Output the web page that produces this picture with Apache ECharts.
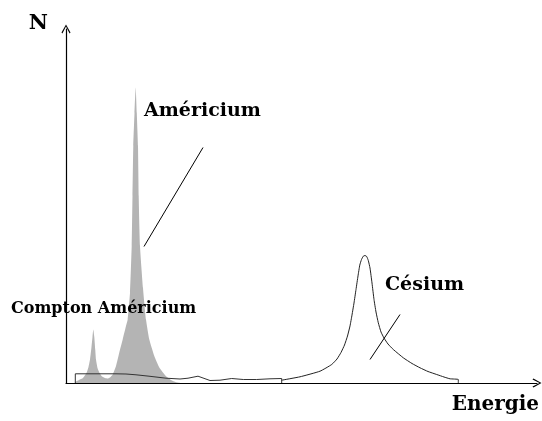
<!DOCTYPE html>
<html>
<head>
<meta charset="utf-8">
<script src="https://cdn.jsdelivr.net/npm/echarts@6/dist/echarts.min.js"></script>
<style>html,body{margin:0;padding:0;background:#fff;}#c{width:542px;height:421px;}</style>
</head>
<body>
<div id="c"></div>
<script>
// Arbitrary units: x = energy channel, y = counts N
const americium = [[9,1],[13,3],[17,5],[20.7,10.5],[22.5,16],[24,23.5],[25.5,36],[26.5,46],[27.3,53.5],[28.3,46],[29.3,33],[30,23.5],[31.5,15],[33.3,10.5],[36,6.5],[39,5],[41.7,4.5],[44,5.5],[46.7,8.5],[50,17],[53.3,30.5],[56.7,43.5],[60,57],[61.7,63.5],[64,90],[65.7,137],[66.5,187],[67.3,237],[68.5,270],[69.7,295.5],[70.8,270],[72,237],[72.7,187],[74,137],[77,95],[80,63.5],[83.3,43.5],[88.3,27],[93.3,15.5],[100,6.8],[105,3],[110,0.8],[115,0]];
const comptonAm = [[9.3,0],[9.3,9.2],[30,9.2],[50,9.2],[60,9],[70,8.2],[83,6.8],[100,4.8],[114,4],[122,4.8],[132,6.8],[144,2.5],[154,2.8],[165.7,4.5],[177.3,3.5],[190.7,3.5],[204,4.2],[215.7,4.5],[215.7,0]];
const cesium = [[215.7,2.8],[234,6.2],[254,11.8],[265.7,18.5],[271,24],[275,30.5],[278.5,38],[281.5,47],[284,57],[286,68],[288,80],[290,93.5],[292,107],[293.8,118],[295.5,123.5],[297.3,126.8],[299,127.5],[300.7,126.5],[302.3,122.5],[304,115],[306,100],[308,83.5],[310,71],[312.3,60.2],[315,51],[318,45],[322,39],[327.3,33.5],[337.3,25.2],[346,19.5],[354,15.2],[362,11.5],[370.7,8.5],[378,6],[384,4.2],[392.3,3.5],[392.3,0]];
const leaderAm = [[78,136.5],[137,235.5]];
const leaderCs = [[304,23.5],[334,68.5]];
const labels = ['Américium', 'Compton Américium', 'Césium'];
const axisNames = ['Energie', 'N'];

const chart = echarts.init(document.getElementById('c'), null, {renderer: 'canvas'});
const chevron = 'path://M5,0 L10,9 L9,10 L5,2.2 L1,10 L0,9 Z';
const fontFam = '"DejaVu Serif", serif';
function axis(min, max, name, nameOpts) {
  return Object.assign({
    type: 'value', min: min, max: max, name: name,
    axisLine: {show: true, symbol: ['none', chevron], symbolSize: [9, 9], lineStyle: {color: '#000', width: 1.2}},
    axisTick: {show: false}, axisLabel: {show: false}, splitLine: {show: false}
  }, nameOpts);
}
const option = {
  animation: false,
  grid: {left: 66, right: 5, top: 29, bottom: 38},
  xAxis: axis(0, 471, axisNames[0], {
    nameLocation: 'end', nameGap: 2,
    nameTextStyle: {fontFamily: fontFam, fontWeight: 'bold', fontSize: 20, color: '#000', align: 'right', verticalAlign: 'top', padding: [12, 0, 0, 0]}
  }),
  yAxis: axis(0, 354, axisNames[1], {
    nameLocation: 'end', nameGap: 5,
    nameTextStyle: {fontFamily: fontFam, fontWeight: 'bold', fontSize: 21, color: '#000', align: 'right', verticalAlign: 'middle', padding: [0, 18, 0, 0]}
  }),
  series: [
    {type: 'line', data: americium, symbol: 'none', smooth: 0.15, lineStyle: {width: 0}, areaStyle: {color: '#b4b4b4', opacity: 1}, z: 1},
    {type: 'line', data: comptonAm, symbol: 'none', lineStyle: {color: '#333', width: 1}, z: 2},
    {type: 'line', data: cesium, symbol: 'none', smooth: 0.15, lineStyle: {color: '#222', width: 1}, z: 2},
    {type: 'line', data: leaderAm, symbol: 'none', lineStyle: {color: '#000', width: 1}, z: 2},
    {type: 'line', data: leaderCs, symbol: 'none', lineStyle: {color: '#000', width: 1}, z: 2}
  ],
  graphic: [
    {type: 'text', left: 144, top: 102, z: 10, style: {text: labels[0], font: 'bold 19px ' + fontFam, fill: '#000'}},
    {type: 'text', left: 11, top: 301, z: 10, style: {text: labels[1], font: 'bold 16px ' + fontFam, fill: '#000'}},
    {type: 'text', left: 385, top: 276, z: 10, style: {text: labels[2], font: 'bold 19px ' + fontFam, fill: '#000'}}
  ]
};
chart.setOption(option);
</script>
</body>
</html>
